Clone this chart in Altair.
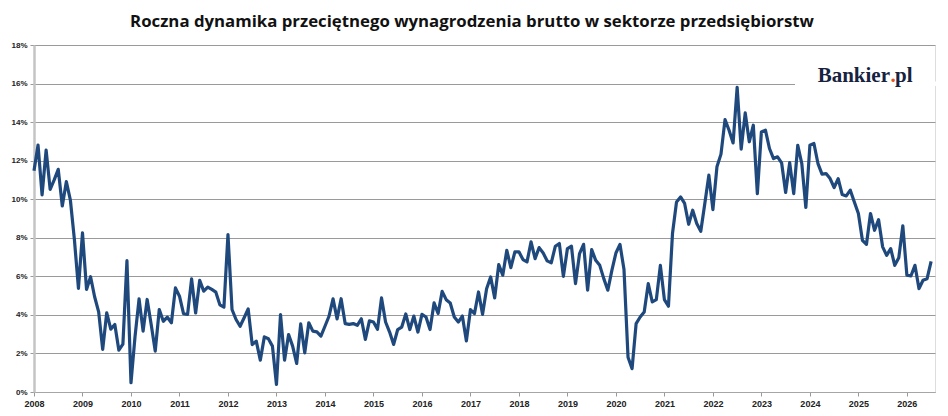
import altair as alt
import pandas as pd

TITLE = "Roczna dynamika przeciętnego wynagrodzenia brutto w sektorze przedsiębiorstw"

years = list(range(2008, 2027))
y_ticks = list(range(0, 20, 2))

v2008 = [11.48, 12.81, 10.22, 12.55, 10.51, 11.0, 11.55, 9.65, 10.91, 9.96, 7.9, 5.37]
v2009 = [8.26, 5.32, 5.98, 4.94, 4.16, 2.21, 4.11, 3.26, 3.50, 2.17, 2.48, 6.81]
v2010 = [0.48, 2.87, 4.83, 3.16, 4.8, 3.5, 2.12, 4.28, 3.67, 3.88, 3.59, 5.4]
v2011 = [4.97, 4.06, 4.02, 5.87, 4.1, 5.79, 5.23, 5.44, 5.32, 5.18, 4.52, 4.4]
v2012 = [8.17, 4.28, 3.76, 3.41, 3.85, 4.31, 2.46, 2.64, 1.65, 2.86, 2.76, 2.38]
v2013 = [0.39, 4.02, 1.65, 2.98, 2.38, 1.48, 3.53, 2.03, 3.59, 3.16, 3.12, 2.9]
v2014 = [3.41, 3.93, 4.83, 3.79, 4.84, 3.55, 3.51, 3.55, 3.46, 3.8, 2.73, 3.69]
v2015 = [3.63, 3.25, 4.88, 3.63, 3.11, 2.47, 3.24, 3.37, 4.05, 3.24, 3.94, 3.11]
v2016 = [4.03, 3.89, 3.24, 4.62, 4.07, 5.22, 4.79, 4.62, 3.89, 3.63, 3.94, 2.65]
v2017 = [4.27, 4.07, 5.19, 4.03, 5.36, 5.97, 4.88, 6.61, 6.06, 7.35, 6.45, 7.27]
v2018 = [7.27, 6.87, 6.75, 7.79, 6.92, 7.49, 7.21, 6.8, 6.7, 7.56, 7.7, 6.0]
v2019 = [7.44, 7.56, 5.62, 7.18, 7.66, 5.28, 7.39, 6.83, 6.57, 5.88, 5.28, 6.31]
v2020 = [7.21, 7.66, 6.35, 1.8, 1.21, 3.55, 3.89, 4.15, 5.62, 4.67, 4.79, 6.57]
v2021 = [4.79, 4.45, 8.22, 9.86, 10.12, 9.78, 8.7, 9.43, 8.74, 8.34, 9.78, 11.25]
v2022 = [9.46, 11.68, 12.34, 14.13, 13.58, 12.92, 15.8, 12.6, 14.48, 12.98, 13.84, 10.29]
v2023 = [13.49, 13.58, 12.63, 12.11, 12.2, 11.89, 10.35, 11.9, 10.29, 12.8, 11.85, 9.57]
v2024 = [12.8, 12.89, 11.85, 11.3, 11.33, 11.07, 10.61, 11.07, 10.24, 10.17, 10.47, 9.86]
v2025 = [9.26, 7.87, 7.66, 9.26, 8.39, 8.94, 7.53, 7.09, 7.44, 6.57, 6.97, 8.62]
v2026 = [6.06, 6.02, 6.57, 5.36, 5.8, 5.88, 6.78]

series = [v2008, v2009, v2010, v2011, v2012, v2013, v2014, v2015, v2016,
          v2017, v2018, v2019, v2020, v2021, v2022, v2023, v2024, v2025, v2026]

rows = []
for yr, vals in zip(years, series):
    for m, v in enumerate(vals):
        rows.append({"t": yr + m / 12.0, "v": v})
df = pd.DataFrame(rows)

one = pd.DataFrame({"k": [0]})

W, H = 901, 347
LABEL_FONT = "Liberation Sans"

x_enc = alt.X(
    "t:Q",
    scale=alt.Scale(domain=[2008, 2026.58], nice=False, zero=False),
    axis=alt.Axis(
        values=years, format="d", title=None, grid=False,
        tickSize=4, tickColor="#999999", domainColor="#a6a6a6", domainWidth=1,
        labelFont=LABEL_FONT, labelFontSize=9, labelFontWeight="bold",
        labelColor="#222222", labelPadding=3, labelFlush=False,
    ),
)
y_enc = alt.Y(
    "v:Q",
    scale=alt.Scale(domain=[0, 18], nice=False),
    axis=alt.Axis(
        values=y_ticks, labelExpr="datum.value + '%'", title=None,
        grid=True, gridColor="#9a9a9a", gridWidth=1,
        tickSize=4, tickColor="#999999", domainColor="#c4c4c4", domainWidth=2.5,
        labelFont=LABEL_FONT, labelFontSize=8, labelFontWeight="bold",
        labelColor="#222222", labelPadding=3,
    ),
)

line = alt.Chart(df).mark_line(
    color="#1F497D", strokeWidth=3.2, strokeJoin="round", clip=False
).encode(x=x_enc, y=y_enc)

# white patch that interrupts the 16% gridline behind the logo
patch = alt.Chart(one).mark_rect(color="white").encode(
    x=alt.value(761), x2=alt.value(903),
    y=alt.value(36.5), y2=alt.value(41),
)

title = alt.Chart(one).mark_text(
    font="Open Sans", fontSize=16.8, fontWeight="bold", color="#111111",
    align="center", baseline="middle",
).encode(x=alt.value(438), y=alt.value(-23), text=alt.value(TITLE))

logo_main = alt.Chart(one).mark_text(
    font="Liberation Serif", fontSize=21, fontWeight="bold", color="#17223f",
    align="right", baseline="alphabetic",
).encode(x=alt.value(856), y=alt.value(36.7), text=alt.value("Bankier"))

logo_dot = alt.Chart(one).mark_text(
    font="Liberation Serif", fontSize=21, fontWeight="bold", color="#e8531f",
    align="center", baseline="alphabetic",
).encode(x=alt.value(859), y=alt.value(36.7), text=alt.value("."))

logo_pl = alt.Chart(one).mark_text(
    font="Liberation Serif", fontSize=21, fontWeight="bold", color="#17223f",
    align="left", baseline="alphabetic",
).encode(x=alt.value(861), y=alt.value(36.7), text=alt.value("pl"))

chart = alt.layer(line, patch, logo_main, logo_dot, logo_pl, title).properties(
    width=W, height=H,
    autosize=alt.AutoSizeParams(type="none"),
    padding={"left": 26, "top": 37, "right": 5, "bottom": 24},
).configure_view(stroke=None).configure(background="white")

chart.save("out.html", embed_options={"renderer": "svg", "actions": False})
